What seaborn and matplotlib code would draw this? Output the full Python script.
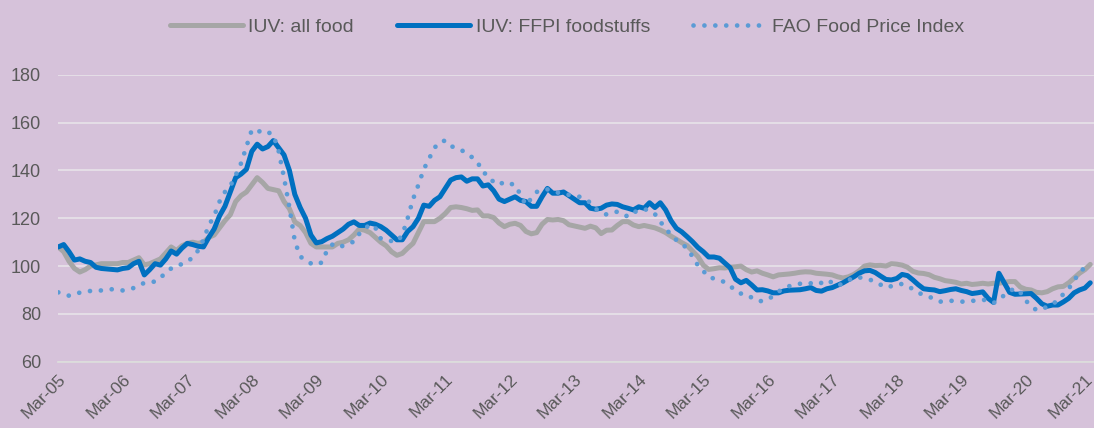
import pandas as pd
import matplotlib.pyplot as plt
import seaborn as sns

# monthly index values, Mar-05 .. Mar-21
iuv_all_food = [
    108, 106, 102, 99, 97.5, 98.5, 100, 100.5, 101, 101,
    101, 101, 101.5, 101.5, 102.5, 103.5, 100.5, 101, 102, 103,
    105.5, 108, 106.5, 108.5, 109.5, 110, 109.5, 110, 112, 113,
    116, 119, 121.5, 127, 129.5, 131, 134, 137, 135, 132.5,
    132, 131.5, 127, 124, 118.5, 117, 114, 109.5, 108, 108,
    108, 108, 109.5, 110, 111, 113, 115.5, 115, 114, 112,
    110, 108.5, 106, 104.5, 105.3, 107.5, 109.5, 114, 118.6, 118.6,
    118.6, 120, 122, 124.5, 124.8, 124.5, 124, 123.3, 123.5, 121,
    121, 120.3, 118, 116.5, 117.5, 117.9, 117, 114.5, 113.5, 114,
    117.5, 119.5, 119.3, 119.5, 119, 117.3, 116.8, 116.3, 115.8, 116.7,
    116, 113.6, 115, 115.1, 117, 118.6, 118.6, 117.2, 116.5, 117,
    116.5, 116, 115.1, 114, 112.5, 111.2, 109.8, 108.6, 106.3, 104,
    100.4, 98.6, 98.9, 99.3, 99.2, 99.5, 99.7, 100, 98.5, 97.5,
    98, 97, 96.3, 95.5, 96.3, 96.5, 96.7, 97, 97.4, 97.6,
    97.5, 97, 96.8, 96.6, 96.3, 95.5, 95, 95.5, 96.5, 98,
    100, 100.5, 100.2, 100.3, 100, 101, 100.8, 100.4, 99.5, 97.8,
    97.1, 96.9, 96.4, 95.3, 94.7, 93.9, 93.6, 93.2, 92.5, 92.8,
    92.3, 92.5, 92.8, 92.5, 92.8, 92.8, 93.2, 93.5, 93.5, 91.2,
    90.3, 90, 89, 88.8, 89.3, 90.5, 91.3, 91.5, 93, 95,
    97, 98.5, 100.7,
]

iuv_ffpi = [
    108, 109, 106, 102.5, 103, 102, 101.5, 99.5, 99, 98.8,
    98.6, 98.4, 99, 99.3, 101, 102, 96.3, 98.5, 101, 100.4,
    103, 106.3, 105, 107.5, 109.5, 109, 108.3, 108, 112, 115.5,
    121, 125, 131, 137, 138.5, 140.5, 148, 151, 149, 150,
    152.5, 149.5, 146.5, 140, 130, 124.5, 120, 113, 109.7, 110.2,
    111.5, 112.5, 114, 115.5, 117.5, 118.5, 117, 117, 118, 117.5,
    116.5, 115, 113, 111, 111, 114.5, 116.5, 120, 125.5, 125,
    127.5, 129, 132.5, 136, 137, 137.3, 135.5, 136.5, 136.5, 133.5,
    134, 131.5, 128, 127, 128, 129, 127.5, 127, 125, 125,
    129, 132.5, 130.5, 130.5, 131, 129.5, 128, 126.5, 126.5, 124.2,
    123.8, 124.2, 125.5, 126, 125.8, 124.8, 124.2, 123.5, 124.8, 124.2,
    126.5, 124.5, 126.5, 123.5, 119, 115.8, 114.3, 112.3, 110.2, 107.8,
    106, 103.8, 103.8, 103.3, 101.3, 99.3, 94.5, 93, 94, 92.1,
    90, 90.1, 89.6, 88.8, 88.8, 89.6, 89.9, 90, 90.1, 90.5,
    91, 89.8, 89.5, 90.5, 91, 92, 93, 94.3, 95.5, 97,
    98, 98.2, 97.3, 95.8, 94.4, 94.2, 94.8, 96.5, 96, 94.2,
    92.2, 90.5, 90.2, 90, 89.3, 89.7, 90.2, 90.5, 89.8, 89.3,
    88.5, 88.8, 89.2, 86.5, 84.8, 97, 93, 89, 88.2, 88.3,
    88.4, 88.5, 86.5, 84.2, 83.2, 83.7, 83.7, 85, 86.5, 88.8,
    90, 90.8, 93,
]

fao_index = [
    89, 88.3, 87.6, 88.2, 88.9, 89.2, 89.6, 89.7, 89.8, 90.1,
    90.3, 90, 89.8, 90.3, 90.8, 91.8, 93, 93.3, 93.5, 95,
    97.4, 99, 100.2, 100.8, 102, 103.5, 106.5, 111, 117, 121,
    127, 131, 133.5, 138, 143, 150, 157, 157, 155.5, 156,
    155, 148, 137, 124.5, 110.5, 104, 102.5, 101.1, 100.5, 101.5,
    106.5, 109, 107.8, 108.5, 109.5, 110.2, 113.5, 115.5, 117.5, 116,
    111.5, 110.8, 110.5, 110.2, 113, 120, 128, 134, 140.5, 145,
    149.5, 152, 152.5, 150.2, 149.5, 148.5, 147.2, 145.5, 143.5, 139.2,
    138, 135, 134, 135.3, 134.5, 134, 129.8, 125.5, 128.3, 131,
    131.9, 132.1, 131.5, 130.7, 130.3, 129.8, 129.4, 129, 128, 126.5,
    124, 122.2, 121.6, 122, 122.8, 122, 120.6, 122.3, 123.5, 123.8,
    123.3, 121.8, 118.5, 116, 112.8, 110.9, 109.3, 107.4, 104, 100.3,
    98, 95.3, 94.8, 94.3, 93.2, 91.8, 89.5, 88.5, 88.2, 86.8,
    85.5, 85.3, 86, 87.5, 89.3, 90.8, 91.6, 92.1, 92.6, 93.1,
    92.8, 92.2, 93, 94.2, 93, 91.7, 92.8, 94, 95.3, 95.3,
    94.8, 94.3, 93.5, 92.2, 91, 91.6, 92.4, 92.5, 91.8, 90.3,
    88.8, 88, 87.2, 86.2, 85.1, 85.3, 85.5, 85.3, 85.1, 85.2,
    85.4, 85.7, 86, 85.3, 84.5, 86, 87.8, 89.5, 90.7, 89,
    85.5, 83.5, 81.5, 82, 83, 84.2, 85.6, 88.3, 90.5, 94,
    97.2, 99.5,
]

tick_labels = ['Mar-05', 'Mar-06', 'Mar-07', 'Mar-08', 'Mar-09', 'Mar-10',
               'Mar-11', 'Mar-12', 'Mar-13', 'Mar-14', 'Mar-15', 'Mar-16',
               'Mar-17', 'Mar-18', 'Mar-19', 'Mar-20', 'Mar-21']

df = pd.DataFrame({'month': range(len(iuv_all_food)),
                   'all_food': iuv_all_food,
                   'ffpi': iuv_ffpi})
df_fao = pd.DataFrame({'month': range(len(fao_index)), 'fao': fao_index})

bg = '#d6c2da'
txt = '#595959'

sns.set_style('white')
plt.rcParams['font.family'] = ['Liberation Sans', 'DejaVu Sans']

fig = plt.figure(figsize=(10.94, 4.28), dpi=100, facecolor=bg)
ax = fig.add_axes([0.0533, 0.155, 0.9467, 0.67])
ax.set_facecolor(bg)

sns.lineplot(data=df, x='month', y='all_food', ax=ax, color='#a6a6a6',
             lw=3.6, label='IUV: all food')
sns.lineplot(data=df, x='month', y='ffpi', ax=ax, color='#0070c0',
             lw=3.6, label='IUV: FFPI foodstuffs')
sns.lineplot(data=df_fao, x='month', y='fao', ax=ax, color='#5b9bd5',
             lw=3.4, ls=(0, (0.01, 2.3)), dash_capstyle='round',
             label='FAO Food Price Index')

ax.set_ylim(60, 180)
ax.set_yticks(range(60, 181, 20))
ax.set_xlim(0, 192.7)
ticks = list(range(0, 193, 12))
ax.set_xticks(ticks)
# last label is drawn separately, nudged left so it stays inside the figure
ax.set_xticklabels(tick_labels[:-1] + [''], rotation=45, ha='right',
                   rotation_mode='anchor')
ax.annotate(tick_labels[-1], xy=(ticks[-1], 0), xycoords=('data', 'axes fraction'),
            xytext=(-4, -7), textcoords='offset points', rotation=45,
            ha='right', va='top', rotation_mode='anchor', fontsize=12.5,
            color=txt, annotation_clip=False)
ax.set_xlabel('')
ax.set_ylabel('')

ax.grid(axis='y', color='#e6e1e8', lw=1.3)
ax.grid(axis='x', visible=False)
for s in ['left', 'right', 'top']:
    ax.spines[s].set_visible(False)
ax.spines['bottom'].set_color('#dcdcdc')
ax.spines['bottom'].set_linewidth(1.3)
ax.tick_params(axis='x', colors='#dcdcdc', length=5, width=1.2, labelcolor=txt,
               labelsize=12.5, pad=2)
ax.tick_params(axis='y', length=0, labelcolor=txt, labelsize=13, pad=12.5)

handles, labels = ax.get_legend_handles_labels()
ax.get_legend().remove()
fig.legend(handles, labels, loc='center', bbox_to_anchor=(0.518, 0.937),
           ncol=3, frameon=False, fontsize=14, handlelength=3.75,
           handletextpad=0.3, columnspacing=2.2, labelcolor=txt)

fig.savefig('out.png', dpi=100, facecolor=bg)
